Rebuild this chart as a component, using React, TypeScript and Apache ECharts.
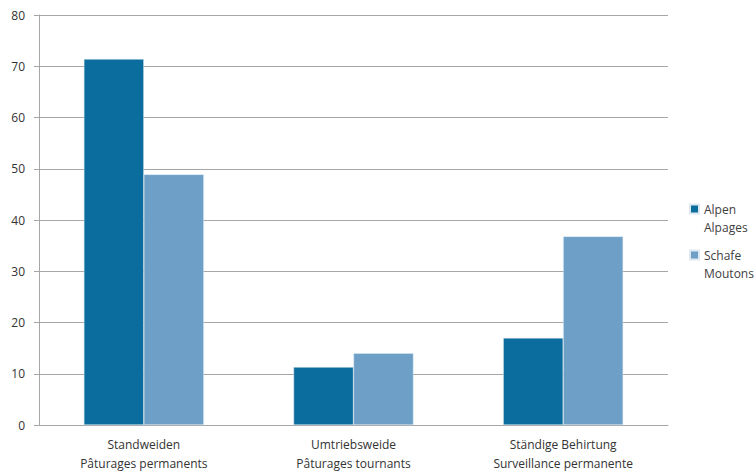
import React, { useEffect, useRef } from "react";
import * as echarts from "echarts";

const categories = [
  "Standweiden\nPâturages permanents",
  "Umtriebsweide\nPâturages tournants",
  "Ständige Behirtung\nSurveillance permanente",
];
const alpen = [71.4, 11.3, 17.0];
const schafe = [48.9, 14.0, 36.8];
const seriesNames = ["Alpen\nAlpages", "Schafe\nMoutons"];

const legendIcon = "path://M0,0 M0,36 M0,4.5L9,4.5L9,13.5L0,13.5Z";

export default function App() {
  const ref = useRef<HTMLDivElement>(null);
  useEffect(() => {
    const chart = echarts.init(ref.current!, null, { renderer: "svg" });
    const font = "'Open Sans', 'Liberation Sans', sans-serif";
    chart.setOption({
      animation: false,
      textStyle: { fontFamily: font },
      grid: { left: 39, right: 88, top: 15, bottom: 47, containLabel: false },
      legend: {
        orient: "vertical",
        left: 689,
        top: 199,
        padding: 0,
        itemWidth: 9,
        itemHeight: 36,
        itemGap: 8,
        icon: legendIcon,
        textStyle: { fontSize: 12, color: "#404040", lineHeight: 18, fontFamily: font },
        data: seriesNames,
      },
      xAxis: {
        type: "category",
        data: categories,
        axisLine: { lineStyle: { color: "#a6a6a6", width: 1 } },
        axisTick: { show: false },
        axisLabel: { fontSize: 12, color: "#333", lineHeight: 19, margin: 10, fontFamily: font },
      },
      yAxis: {
        type: "value",
        min: 0,
        max: 80,
        interval: 10,
        axisLine: { show: true, lineStyle: { color: "#a6a6a6", width: 1 } },
        axisTick: { show: true, length: 5, lineStyle: { color: "#a6a6a6" } },
        splitLine: { lineStyle: { color: "#a6a6a6", width: 1 } },
        axisLabel: { fontSize: 12, color: "#333", margin: 14, fontFamily: font },
      },
      series: [
        {
          name: seriesNames[0],
          type: "bar",
          data: alpen,
          barWidth: "28.6%",
          barGap: "0%",
          itemStyle: { color: "#0b6d9e", borderColor: "#dde8f0", borderWidth: 0.5 },
        },
        {
          name: seriesNames[1],
          type: "bar",
          data: schafe,
          barWidth: "28.6%",
          itemStyle: { color: "#6d9fc7", borderColor: "#dde8f0", borderWidth: 0.5 },
        },
      ],
    });
    return () => chart.dispose();
  }, []);
  return <div ref={ref} style={{ width: 756, height: 473, position: "absolute", left: 0, top: 0 }} />;
}
